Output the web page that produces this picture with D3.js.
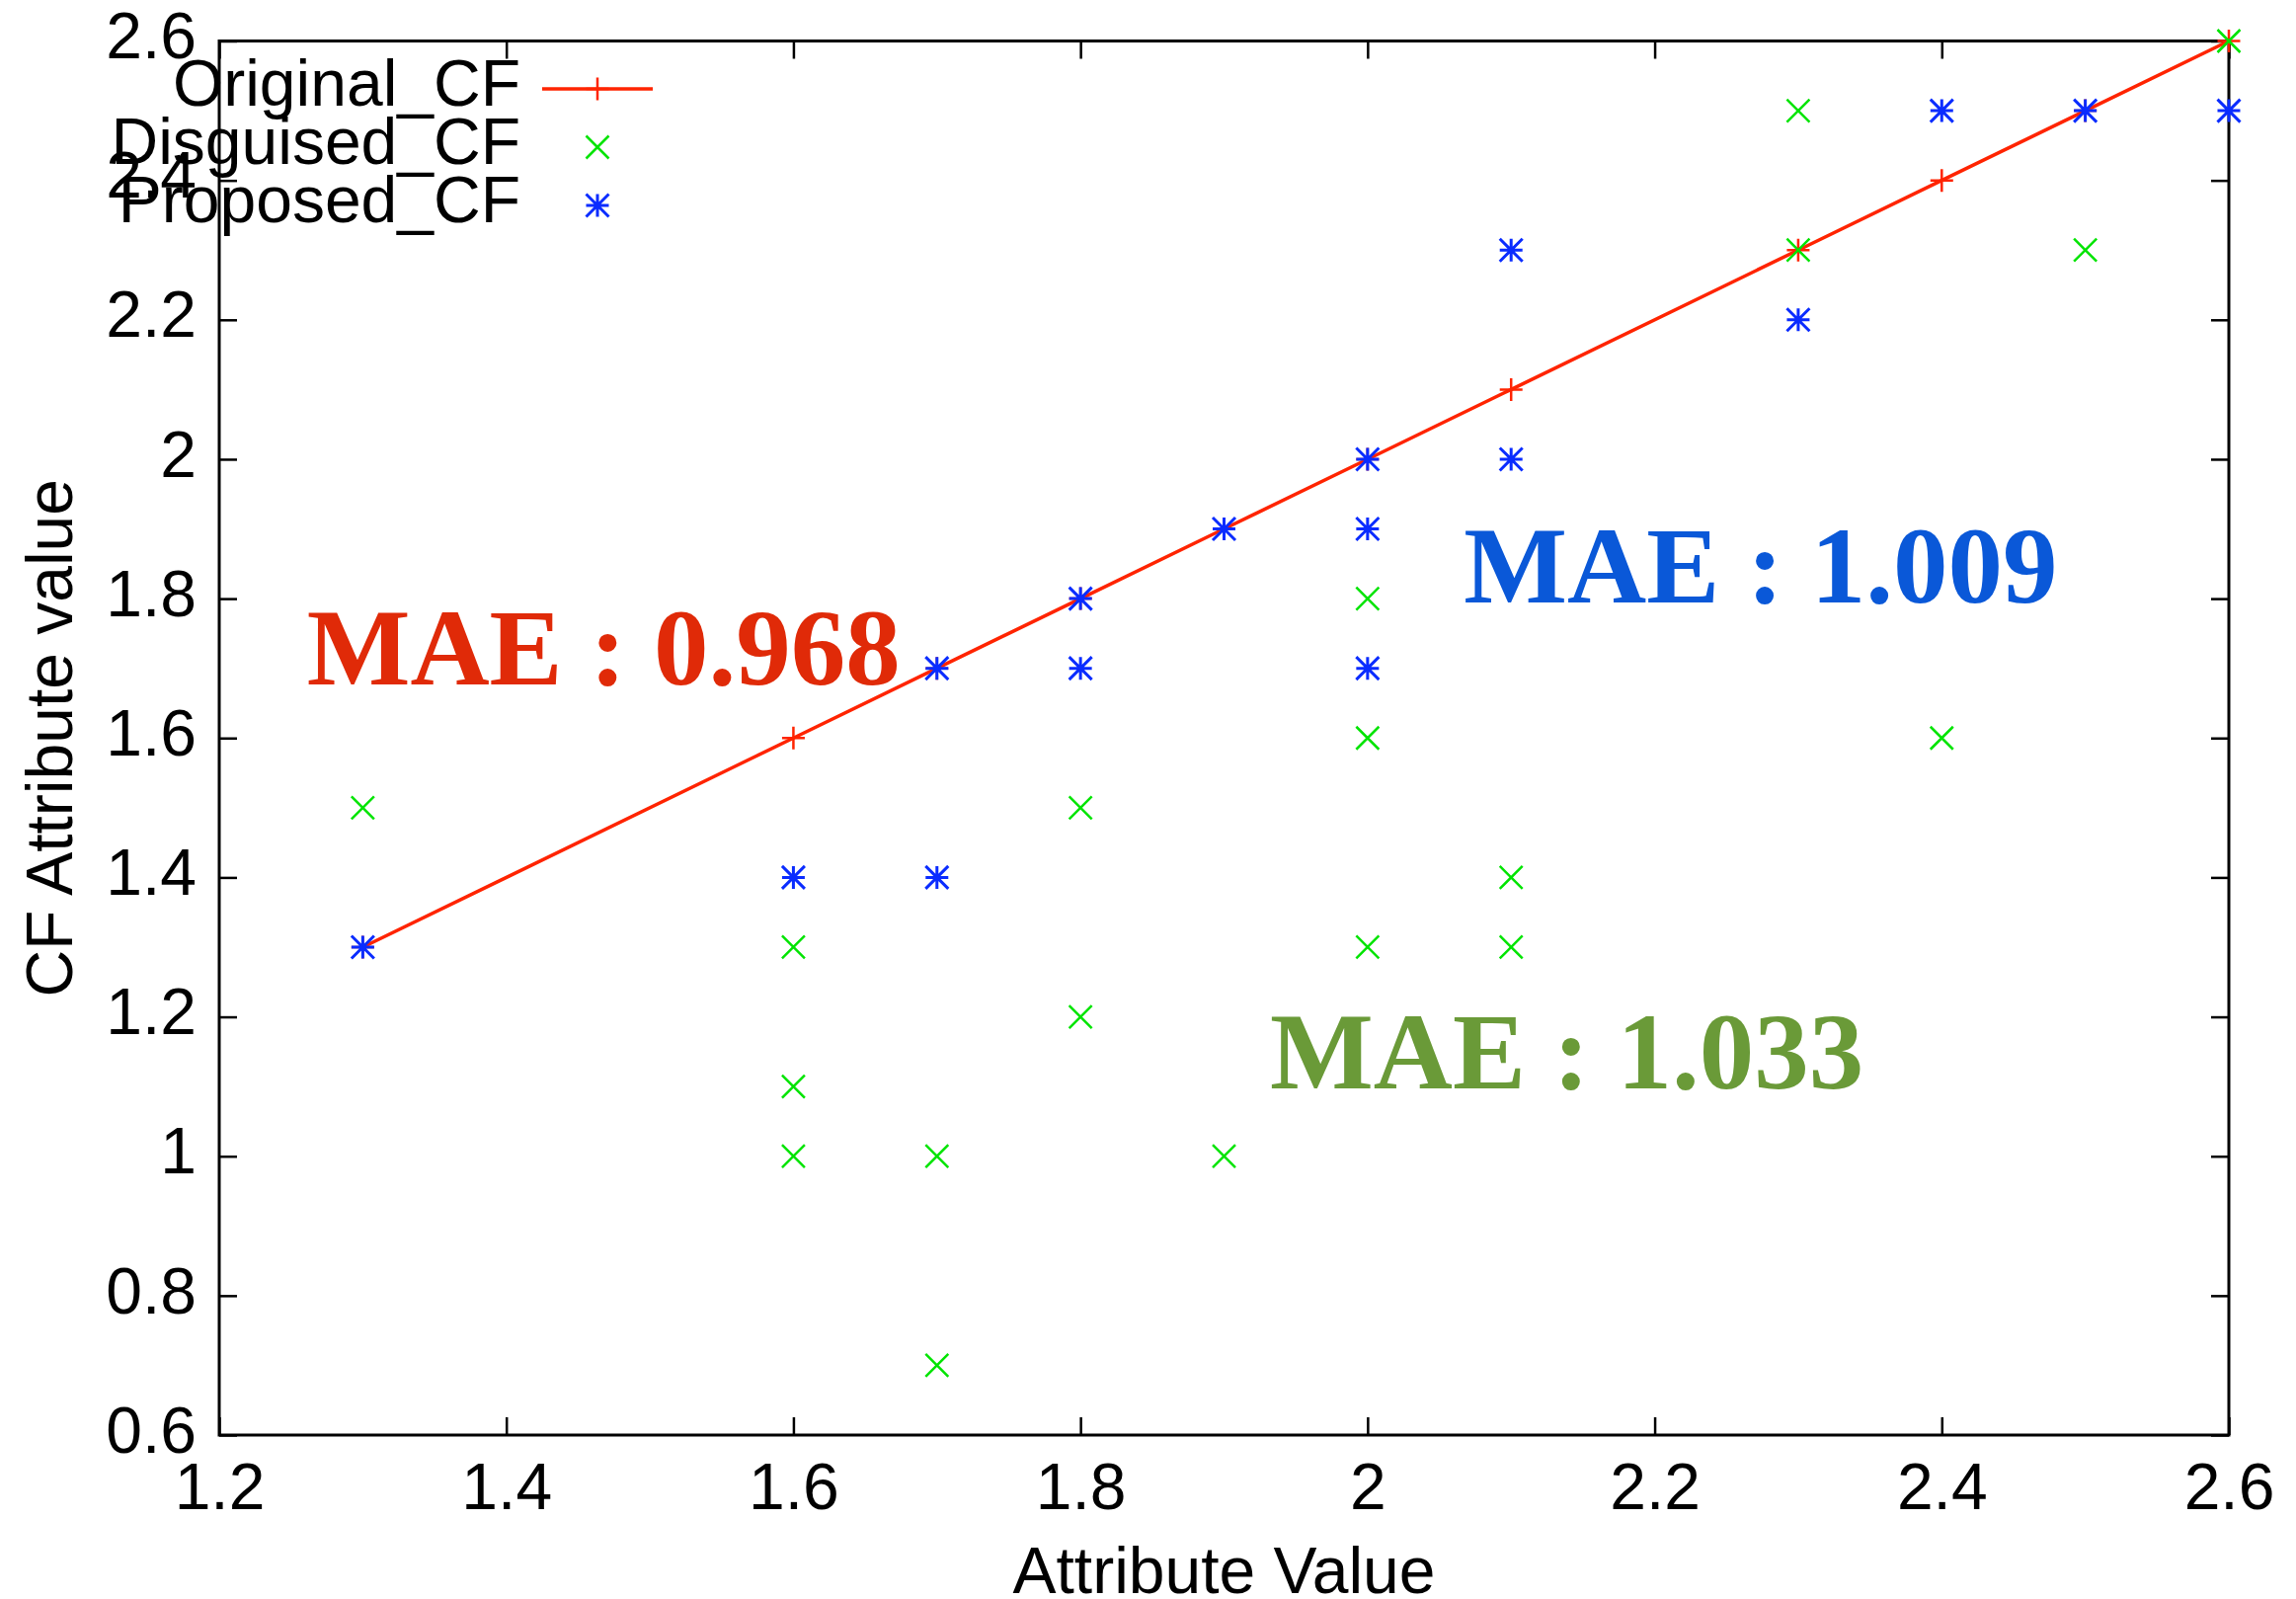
<html>
<head>
<meta charset="utf-8">
<style>
body { margin: 0; background: #fff; }
svg { display: block; background: #fff; }
.axis text { font-family: "Liberation Sans", Arial, sans-serif; font-size: 66px; fill: #000; }
.axis line { stroke: #000; stroke-width: 2.5px; }
.axis path { stroke: none; }
.title { font-family: "Liberation Sans", Arial, sans-serif; font-size: 66px; fill: #000; }
.mae { font-family: "Liberation Serif", "Times New Roman", serif; font-weight: bold; font-size: 111px; }
</style>
</head>
<body>
<svg width="2325" height="1619"></svg>
<script src="https://d3js.org/d3.v7.min.js"></script>
<script>

// values
var xTicks = [1.2, 1.4, 1.6, 1.8, 2.0, 2.2, 2.4, 2.6];
var yTicks = [0.6, 0.8, 1.0, 1.2, 1.4, 1.6, 1.8, 2.0, 2.2, 2.4, 2.6];

var originalX = [1.3, 1.6, 1.7, 1.8, 1.9, 2.0, 2.1, 2.3, 2.4, 2.5, 2.6];
var originalY = [1.3, 1.6, 1.7, 1.8, 1.9, 2.0, 2.1, 2.3, 2.4, 2.5, 2.6];

var disguisedX = [1.3, 1.6, 1.6, 1.6, 1.7, 1.7, 1.8, 1.8, 1.9, 2.0, 2.0, 2.0, 2.1, 2.1, 2.3, 2.3, 2.4, 2.5, 2.6];
var disguisedY = [1.5, 1.3, 1.1, 1.0, 1.0, 0.7, 1.5, 1.2, 1.0, 1.8, 1.6, 1.3, 1.4, 1.3, 2.5, 2.3, 1.6, 2.3, 2.6];

var proposedX = [1.3, 1.6, 1.7, 1.7, 1.8, 1.8, 1.9, 2.0, 2.0, 2.0, 2.1, 2.1, 2.3, 2.4, 2.5, 2.6];
var proposedY = [1.3, 1.4, 1.7, 1.4, 1.8, 1.7, 1.9, 2.0, 1.9, 1.7, 2.3, 2.0, 2.2, 2.5, 2.5, 2.5];

var seriesNames = ["Original_CF", "Disguised_CF", "Proposed_CF"];
var maeLabels = ["MAE : 0.968", "MAE : 1.009", "MAE : 1.033"];

var svg = d3.select("svg"),
    margin = {top: 41.5, right: 68, bottom: 166, left: 222},
    width = +svg.attr("width") - margin.left - margin.right,
    height = +svg.attr("height") - margin.top - margin.bottom,
    g = svg.append("g").attr("transform", "translate(" + margin.left + "," + margin.top + ")");

var x = d3.scaleLinear().domain([1.2, 2.6]).range([0, width]);
var y = d3.scaleLinear().domain([0.6, 2.6]).range([height, 0]);

var fmt = function(d) { return String(+d.toFixed(1)); };
var tick = 18;

var colRed = "#ff2400", colGreen = "#00e400", colBlue = "#0a2cff";

// axes, ticks pointing inwards and mirrored
g.append("g").attr("class", "axis")
    .attr("transform", "translate(0," + height + ")")
    .call(d3.axisBottom(x).tickValues(xTicks).tickFormat(fmt).tickSize(-tick).tickSizeOuter(0).tickPadding(28));

g.append("g").attr("class", "axis")
    .call(d3.axisLeft(y).tickValues(yTicks).tickFormat(fmt).tickSize(-tick).tickSizeOuter(0).tickPadding(23))
  .selectAll("text").attr("dy", "0.26em");

g.append("g").attr("class", "axis")
    .call(d3.axisTop(x).tickValues(xTicks).tickFormat("").tickSize(-tick).tickSizeOuter(0));

g.append("g").attr("class", "axis")
    .attr("transform", "translate(" + width + ",0)")
    .call(d3.axisRight(y).tickValues(yTicks).tickFormat("").tickSize(-tick).tickSizeOuter(0));

g.append("rect")
    .attr("width", width).attr("height", height)
    .attr("fill", "none").attr("stroke", "#000").attr("stroke-width", 3);

// axis titles
svg.append("text").attr("class", "title")
    .attr("x", margin.left + width / 2).attr("y", 1613)
    .attr("text-anchor", "middle")
    .text("Attribute Value");

svg.append("text").attr("class", "title")
    .attr("transform", "translate(73," + (margin.top + height / 2) + ") rotate(-90)")
    .attr("text-anchor", "middle")
    .text("CF Attribute value");

// marker shapes
var s = 11.5;
function plusPath(px, py) {
  return "M" + (px - s) + "," + py + "H" + (px + s) + "M" + px + "," + (py - s) + "V" + (py + s);
}
function crossPath(px, py) {
  return "M" + (px - s) + "," + (py - s) + "L" + (px + s) + "," + (py + s) +
         "M" + (px - s) + "," + (py + s) + "L" + (px + s) + "," + (py - s);
}
function starPath(px, py) { return plusPath(px, py) + crossPath(px, py); }

function zip(xs, ys) { return xs.map(function(v, i) { return [v, ys[i]]; }); }

var original = zip(originalX, originalY),
    disguised = zip(disguisedX, disguisedY),
    proposed = zip(proposedX, proposedY);

// Original_CF: line with + points
g.append("path")
    .datum(original)
    .attr("fill", "none").attr("stroke", colRed).attr("stroke-width", 3.5)
    .attr("d", d3.line().x(function(d) { return x(d[0]); }).y(function(d) { return y(d[1]); }));

g.append("g").selectAll("path").data(original).enter().append("path")
    .attr("d", function(d) { return plusPath(x(d[0]), y(d[1])); })
    .attr("stroke", colRed).attr("stroke-width", 2.5).attr("fill", "none");

g.append("g").selectAll("path").data(disguised).enter().append("path")
    .attr("d", function(d) { return crossPath(x(d[0]), y(d[1])); })
    .attr("stroke", colGreen).attr("stroke-width", 2.5).attr("fill", "none");

g.append("g").selectAll("path").data(proposed).enter().append("path")
    .attr("d", function(d) { return starPath(x(d[0]), y(d[1])); })
    .attr("stroke", colBlue).attr("stroke-width", 3).attr("fill", "none");

// legend
var legendY = [90, 149, 208];
var legend = svg.append("g");
seriesNames.forEach(function(name, i) {
  legend.append("text").attr("class", "title")
      .attr("x", 527).attr("y", legendY[i]).attr("dy", "0.25em")
      .attr("text-anchor", "end")
      .text(name);
});
legend.append("line")
    .attr("x1", 549).attr("x2", 661).attr("y1", legendY[0]).attr("y2", legendY[0])
    .attr("stroke", colRed).attr("stroke-width", 3.5);
legend.append("path").attr("d", plusPath(605, legendY[0]))
    .attr("stroke", colRed).attr("stroke-width", 2.5);
legend.append("path").attr("d", crossPath(605, legendY[1]))
    .attr("stroke", colGreen).attr("stroke-width", 2.5);
legend.append("path").attr("d", starPath(605, legendY[2]))
    .attr("stroke", colBlue).attr("stroke-width", 3);

// MAE annotations, placed in data coordinates
var maeX = [1.261, 2.067, 1.932],
    maeY = [1.677, 1.795, 1.097],
    maeColor = ["#e02a08", "#0a58d8", "#6a9a38"];
maeLabels.forEach(function(t, i) {
  g.append("text").attr("class", "mae")
      .attr("x", x(maeX[i])).attr("y", y(maeY[i]))
      .attr("fill", maeColor[i])
      .text(t);
});

</script>
</body>
</html>
